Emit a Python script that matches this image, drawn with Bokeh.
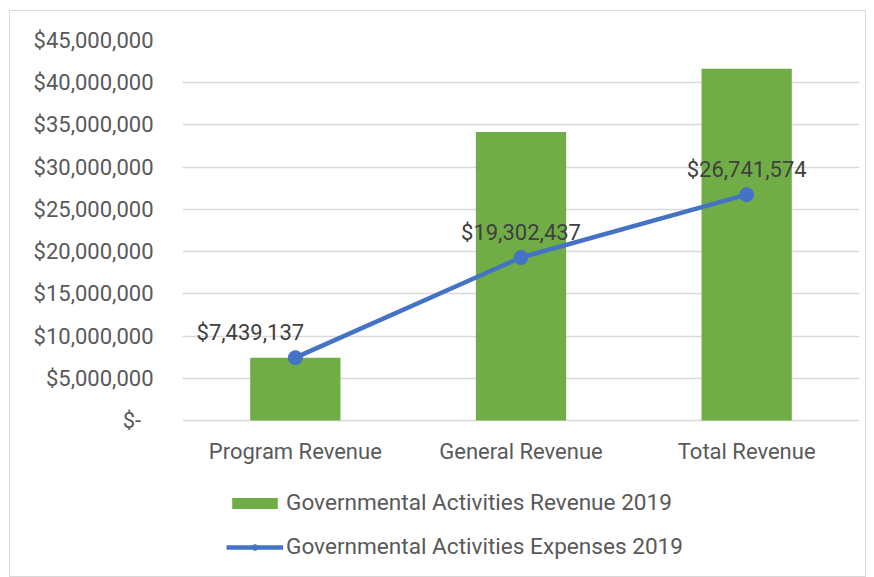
from bokeh.plotting import figure
from bokeh.models import (ColumnDataSource, FixedTicker, CustomJSTickFormatter,
                          Legend, LegendItem, LabelSet)
from bokeh.core.properties import value
from bokeh.embed import file_html
from bokeh.resources import INLINE

categories = ["Program Revenue", "General Revenue", "Total Revenue"]
revenue_2019 = [7439137, 34150000, 41650000]
expenses_2019 = [7439137, 19302437, 26741574]
expense_labels = ["$7,439,137", "$19,302,437", "$26,741,574"]
y_ticks = [0, 5000000, 10000000, 15000000, 20000000, 25000000,
           30000000, 35000000, 40000000, 45000000]

# layout / style settings
label_dx = [-45, 0, 0]
FONT = "Roboto"
W, H = 857, 567
MB_TOP, MB_BOTTOM = 29, 2
AXIS_PX = 380                      # pixels from $- to $45,000,000
FRAME_PX = H - MB_TOP - MB_BOTTOM
y_top = y_ticks[-1]
y_start = -y_top * (FRAME_PX - AXIS_PX) / AXIS_PX

src = ColumnDataSource(dict(cat=categories, rev=revenue_2019, exp=expenses_2019,
                            lab=expense_labels, dx=label_dx,
                            base=[0] * len(categories)))

p = figure(x_range=categories, y_range=(y_start, y_top), width=W, height=H,
           output_backend="svg", toolbar_location=None,
           min_border_left=172, min_border_right=8, min_border_top=MB_TOP,
           min_border_bottom=MB_BOTTOM)
p.styles = {"border": "1px solid #d9d9d9", "box-sizing": "border-box",
            "transform": "translate(9px, 10px)"}
p.outline_line_color = None
p.xgrid.grid_line_color = None
p.ygrid.grid_line_color = "#d9d9d9"
p.ygrid.grid_line_width = 1.3

bars = p.vbar(x="cat", top="rev", bottom="base", width=0.4, source=src,
              fill_color="#70AD47", line_color=None)
ln = p.line(x="cat", y="exp", source=src, line_color="#4472C4", line_width=4.5)
pts = p.scatter(x="cat", y="exp", source=src, size=14,
                fill_color="#4472C4", line_color="#4472C4")

labels = LabelSet(x="cat", y="exp", text="lab", source=src, x_offset="dx",
                  y_offset=13, text_align="center", text_baseline="bottom",
                  text_font=value(FONT), text_font_size="22px",
                  text_color="#404040")
p.add_layout(labels)

cat_labels = LabelSet(x="cat", y="base", text="cat", source=src,
                      y_offset=-31, text_align="center", text_baseline="middle",
                      text_font=value(FONT), text_font_size="22px",
                      text_color="#595959")
p.add_layout(cat_labels)

p.xaxis.visible = False
p.yaxis.ticker = FixedTicker(ticks=y_ticks)
p.yaxis.formatter = CustomJSTickFormatter(code="""
    if (tick == 0) { return "$-\u2007"; }
    return "$" + Math.round(tick).toLocaleString("en-US");
""")
p.yaxis.axis_line_color = None
p.yaxis.major_tick_line_color = None
p.yaxis.minor_tick_line_color = None
p.yaxis.major_label_text_font = FONT
p.yaxis.major_label_text_color = "#595959"
p.yaxis.major_label_text_font_size = "22px"
p.yaxis.major_label_standoff = 23

legend = Legend(items=[
    LegendItem(label="Governmental Activities Revenue 2019", renderers=[bars]),
    LegendItem(label="Governmental Activities Expenses 2019", renderers=[ln, pts]),
], location=(44, 16))
legend.background_fill_alpha = 0
legend.border_line_alpha = 0
legend.padding = 0
legend.margin = 0
legend.glyph_width = 57
legend.glyph_height = 14
legend.label_standoff = 3
legend.spacing = 17
legend.label_text_font = FONT
legend.label_text_font_size = "22.6px"
legend.label_text_color = "#595959"
p.add_layout(legend)

open("out.html", "w").write(file_html(p, INLINE))
